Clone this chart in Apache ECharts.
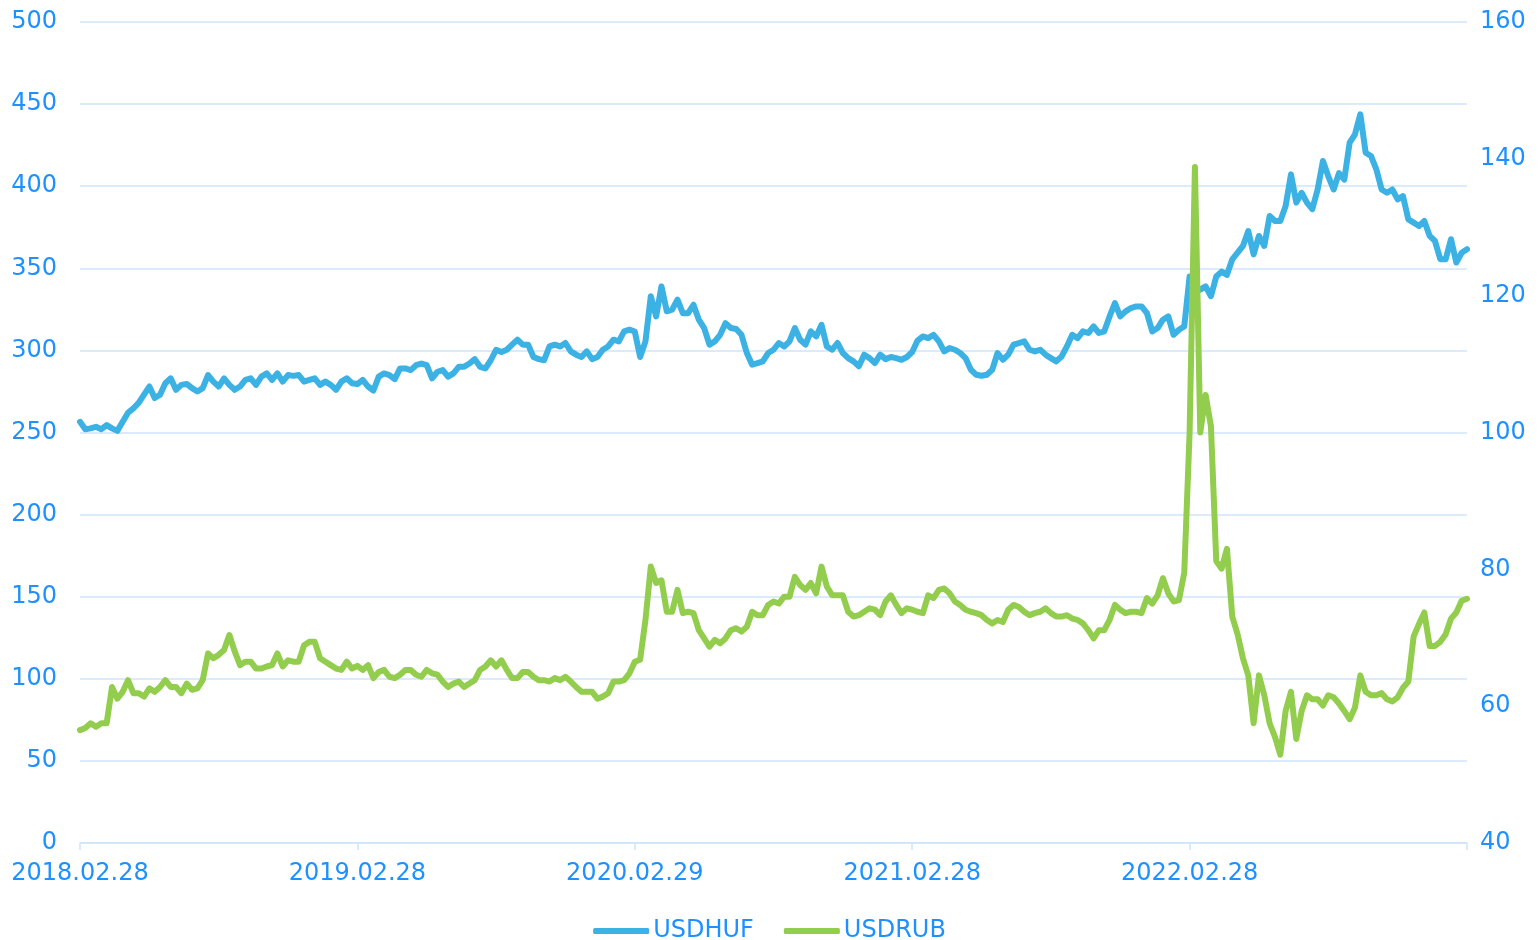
<!DOCTYPE html>
<html>
<head>
<meta charset="utf-8">
<title>USDHUF / USDRUB</title>
<script src="https://cdn.jsdelivr.net/npm/echarts@6/dist/echarts.min.js"></script>
<style>
  html, body { margin: 0; padding: 0; background: #fff; }
  #chart { width: 1539px; height: 940px; }
</style>
</head>
<body>
<div id="chart"></div>
<script>
// weekly closes, week 0 = 2018.02.28, 52 weeks per year
const tickLabels = ['2018.02.28', '2019.02.28', '2020.02.29', '2021.02.28', '2022.02.28']
const seriesNames = ['USDHUF', 'USDRUB']

const usdHuf = [
  256.5, 252, 252.5, 253.5, 252, 254.5, 252.5, 251, 256.5, 262, 264.7, 268, 273, 278, 271, 273, 280, 283, 276, 279,
  279.6, 277, 275, 277, 285, 281, 278, 283, 279, 276, 278, 282, 283, 279, 284, 286, 282, 286, 281, 285,
  284.5, 285, 281, 282, 283, 279, 281, 279, 276, 281, 283, 280, 279.5,
  282, 278, 275.6, 284, 286, 285, 282.5, 289, 289, 288, 291, 292, 291, 283, 287, 288, 284, 286, 290, 290,
  292, 294.7, 290, 289, 294, 300.4, 299, 300.4, 303.5, 306.5, 303.5, 303.5, 296, 294.7, 294, 302.4, 303.5, 302.4, 304.5, 299.4,
  297.4, 296, 299.4, 294.7, 296, 300.4, 302.4, 306.5, 305.5, 311.6, 312.6, 311.5,
  296, 305.5, 333, 320.7, 339, 323.8, 324.8, 330.9, 322.7, 322.7, 327.8, 318.7, 313.6, 303.5, 305.5, 309.5, 316.6, 313.6, 313, 309.5,
  298.4, 291.3, 292.3, 293.3, 298.4, 300.4, 304.5, 302.4, 305.5, 313.6, 306.5, 303.5, 311.6, 308.5, 315.6, 302.4, 300.4, 304.5, 298.4, 295.3,
  293.3, 290.3, 297.4, 295.3, 292.3, 297.4, 294.7, 296, 295.3, 294.3, 296, 299,
  306, 308.5, 307.5, 309.5, 305.5, 299.4, 301.4, 300.4, 298.4, 295.3, 288.2, 285.2, 284.6, 285.2, 288.2, 298.4, 294.3, 297.4, 303.5, 304.5,
  305.5, 300.4, 299.4, 300.4, 297.4, 295.3, 293.3, 296.3, 302.4, 309.5, 307.5, 311.6, 310.6, 314.6, 310.6, 311.6, 320.7, 328.8, 320.7, 323.8,
  325.8, 326.8, 326.8, 322.7, 311.6, 313.6, 318.7, 320.7, 309.5, 312.6, 314.6, 345,
  339, 337, 339, 333, 345, 348, 346, 355.5, 359.5, 363.6, 372.7, 358.5, 369.7, 363.6, 381.9, 378.8, 378.8, 388, 407.2, 390,
  396, 390, 386, 398, 415.4, 406, 398, 408, 404, 426.5, 431.6, 443.8, 420.4, 418.4, 410.3, 398, 396, 398, 392, 394,
  379.8, 377.8, 375.8, 378.8, 369.7, 366.6, 355.5, 355.5, 367.7, 353.5, 359.5, 361.6
]

const usdRub = [
  56.5, 56.8, 57.5, 57.0, 57.5, 57.5, 62.8, 61.1, 62.1, 63.8, 61.9, 61.9, 61.4, 62.6, 62.1, 62.8, 63.8, 62.8, 62.8, 61.9,
  63.3, 62.4, 62.6, 63.8, 67.7, 67.0, 67.5, 68.2, 70.4, 68.0, 66.0, 66.5, 66.5, 65.5, 65.5, 65.8, 66.0, 67.7, 65.8, 66.7,
  66.5, 66.5, 68.9, 69.4, 69.4, 67.0, 66.5, 66.0, 65.5, 65.3, 66.5, 65.5, 65.9,
  65.3, 66.0, 64.1, 65.0, 65.3, 64.3, 64.1, 64.6, 65.3, 65.3, 64.6, 64.3, 65.3, 64.8, 64.6, 63.6, 62.8, 63.3, 63.6, 62.8,
  63.3, 63.8, 65.3, 65.8, 66.7, 65.8, 66.7, 65.3, 64.1, 64.1, 65.0, 65.0, 64.3, 63.8, 63.8, 63.6, 64.1, 63.8, 64.3, 63.6,
  62.8, 62.1, 62.1, 62.1, 61.1, 61.4, 61.9, 63.6, 63.6, 63.8, 64.8, 66.5,
  66.8, 72.6, 80.4, 78.0, 78.4, 73.8, 73.8, 77.0, 73.6, 73.8, 73.6, 71.1, 69.9, 68.7, 69.7, 69.2, 69.9, 71.1, 71.4, 70.9,
  71.6, 73.8, 73.3, 73.3, 74.8, 75.3, 75.0, 76.0, 76.0, 78.9, 77.7, 77.0, 78.0, 76.5, 80.4, 77.5, 76.2, 76.2, 76.2, 73.8,
  73.1, 73.3, 73.8, 74.3, 74.1, 73.3, 75.3, 76.2, 74.8, 73.6, 74.3, 74.1,
  73.8, 73.6, 76.2, 75.8, 77.0, 77.2, 76.5, 75.3, 74.8, 74.1, 73.8, 73.6, 73.3, 72.6, 72.1, 72.6, 72.3, 74.1, 74.8, 74.5,
  73.8, 73.3, 73.6, 73.8, 74.3, 73.6, 73.1, 73.1, 73.3, 72.8, 72.6, 72.1, 71.1, 69.9, 71.1, 71.1, 72.6, 74.8, 74.1, 73.6,
  73.8, 73.8, 73.6, 75.8, 75.0, 76.2, 78.7, 76.5, 75.3, 75.5, 79.5, 100,
  138.8, 100, 105.5, 100.9, 81.2, 80.1, 83.0, 73.1, 70.5, 67, 64.5, 57.5, 64.5, 61.6, 57.5, 55.5, 52.9, 59.3, 62.1, 55.2,
  59.3, 61.6, 61.0, 61.0, 60.1, 61.6, 61.3, 60.4, 59.3, 58.1, 59.8, 64.5, 62.1, 61.6, 61.6, 61.9, 61.0, 60.7, 61.3, 62.7,
  63.6, 70.2, 72.0, 73.7, 68.8, 68.8, 69.4, 70.5, 72.8, 73.7, 75.4, 75.7
]

const TEXT_BLUE = '#1e90ff'
const GRID_BLUE = '#cfe5fa'
const FONT = 'DejaVu Sans'

const chart = echarts.init(document.getElementById('chart'))

chart.setOption({
  animation: false,
  textStyle: { fontFamily: FONT },
  grid: { left: 80, right: 72, top: 22, bottom: 97, containLabel: false },
  legend: {
    data: seriesNames,
    top: 914,
    left: 'center',
    icon: 'roundRect',
    itemWidth: 56,
    itemHeight: 6,
    itemGap: 30,
    textStyle: { color: TEXT_BLUE, fontSize: 24, fontFamily: FONT, padding: [0, 0, 0, -1] }
  },
  xAxis: {
    type: 'value',
    min: 0,
    max: usdHuf.length - 1,
    interval: 52,
    splitLine: { show: false },
    axisLine: { lineStyle: { color: GRID_BLUE, width: 1.5 } },
    axisTick: { show: true, length: 7, lineStyle: { color: GRID_BLUE, width: 1.5 } },
    axisLabel: {
      color: TEXT_BLUE,
      fontSize: 24,
      margin: 19,
      formatter: v => tickLabels[Math.round(v / 52)] || ''
    }
  },
  yAxis: [
    {
      type: 'value',
      min: 0,
      max: 500,
      interval: 50,
      axisLine: { show: false },
      axisTick: { show: false },
      splitLine: { lineStyle: { color: GRID_BLUE, width: 1.5 } },
      axisLabel: { color: TEXT_BLUE, fontSize: 24, margin: 23 }
    },
    {
      type: 'value',
      min: 40,
      max: 160,
      interval: 20,
      axisLine: { show: false },
      axisTick: { show: false },
      splitLine: { show: false },
      axisLabel: { color: TEXT_BLUE, fontSize: 24, margin: 13 }
    }
  ],
  series: [
    {
      name: 'USDHUF',
      type: 'line',
      yAxisIndex: 0,
      symbol: 'none',
      data: usdHuf.map((v, i) => [i, v]),
      itemStyle: { color: '#3bb2e3' },
      lineStyle: { width: 6, color: '#3bb2e3', cap: 'round', join: 'round' }
    },
    {
      name: 'USDRUB',
      type: 'line',
      yAxisIndex: 1,
      symbol: 'none',
      data: usdRub.map((v, i) => [i, v]),
      itemStyle: { color: '#92cd4d' },
      lineStyle: { width: 6, color: '#92cd4d', cap: 'round', join: 'round' }
    }
  ]
})
</script>
</body>
</html>
